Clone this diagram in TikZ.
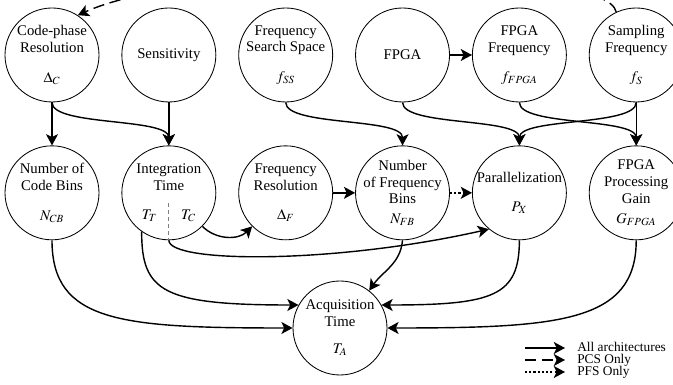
\documentclass[tikz,border=0pt]{standalone}
\usepackage{mathptmx}
\usepackage{fontspec}
\setmainfont{Liberation Serif}
\usetikzlibrary{arrows.meta, positioning}

\begin{document}
\begin{tikzpicture}[
    node distance=1.075cm and 0.55cm,
    var/.style={circle, draw, line width=0.6pt, minimum size=2.35cm, inner sep=-6pt, align=center, font=\fontsize{10.5}{12}\selectfont},
    arrow/.style={-{Stealth[length=2.8mm, width=3mm, inset=0.7mm]}, line width=1pt},
    pcsarrow/.style={arrow, dash pattern=on 8pt off 4pt},
    pfsarrow/.style={arrow, dash pattern=on 1.5pt off 1.5pt},
    split/.style={densely dashed, gray, line width=0.6pt},
    legend/.style={font=\fontsize{9.5}{10}\selectfont, inner sep=0pt, text height=6.5pt, text depth=1pt}
]
\useasboundingbox (0,0) rectangle (16.825,9.625);

% Row 1: inputs
\node[var] (cpr) at (1.3,8.25) {Code-phase\\Resolution\\[9pt]$\Delta_C$};
\node[var, right=of cpr] (sens) {Sensitivity};
\node[var, right=of sens] (fss) {Frequency\\Search Space\\[9pt]$f_{SS}$};
\node[var, right=of fss] (fpga) {FPGA};
\node[var, right=of fpga] (ffpga) {FPGA\\Frequency\\[9pt]$f_{FPGA}$};
\node[var, right=of ffpga] (fs) {Sampling\\Frequency\\[9pt]$f_S$};

% Row 2: derived quantities
\node[var, below=of cpr] (ncb) {Number of\\Code Bins\\[9pt]$N_{CB}$};
\node[var, below=of sens] (itime) {Integration\\Time\\[9pt]$T_T$\hspace{0.6cm}$T_C$};
\node[var, below=of fss] (fres) {Frequency\\Resolution\\[9pt]$\Delta_F$};
\node[var, below=of fpga] (nfb) {Number\\of Frequency\\Bins\\[2pt]$N_{FB}$};
\node[var, below=of ffpga] (px) {Parallelization\\[8.5pt]$P_X$};
\node[var, below=of fs] (fpg) {FPGA\\Processing\\Gain\\[2pt]$G_{FPGA}$};

% Row 3: result
\node[var] (acq) at (8.5,1.425) {Acquisition\\Time\\[7pt]$T_A$};

% Legend
\coordinate (lsolid) at (13.125,0.925);
\coordinate (ldash) at (13.125,0.625);
\coordinate (ldot) at (13.125,0.325);
\node[legend, right=1.3cm of lsolid] (lall) {All architectures};
\node[legend, right=1.3cm of ldash] (lpcs) {PCS Only};
\node[legend, right=1.3cm of ldot] (lpfs) {PFS Only};

% Arrows, row 1 to row 2
\draw[arrow] (cpr) -- (ncb);
\draw[arrow] (cpr.south) .. controls +(0,-0.6) and +(0,0.7) .. (itime.north);
\draw[arrow] (sens) -- (itime);
\draw[arrow] (fss.south) .. controls +(0,-0.6) and +(0,0.7) .. (nfb.north);
\draw[arrow] (fpga) -- (ffpga);
\draw[arrow] (fpga.south) .. controls +(0,-0.6) and +(0,0.7) .. (px.north);
\draw[arrow] (ffpga.south) .. controls +(0,-0.6) and +(0,0.7) .. (fpg.north);
\draw[arrow] (fs) -- (fpg);
\draw[arrow] (fs.south) .. controls +(0,-0.6) and +(0,0.7) .. (px.north);
\draw[pcsarrow] (fs.115) .. controls +(-0.2,1.2) and +(3.1,1.4) .. (cpr.57);

% Arrows within row 2
\draw[arrow] (fres) -- (nfb);
\draw[pfsarrow] (nfb) -- (px);
\draw[arrow] (itime.-45) to[out=-45, in=-135] (fres.-135);
\draw[split] ([yshift=-0.25cm]itime.center) -- (itime.south);
\draw[arrow] (itime.south) .. controls +(0,-0.575) and +(-3.875,-0.875) .. (px.230);

% Arrows into acquisition time
\draw[arrow] (ncb.south) .. controls +(0,-2.05) and +(-4.3,0) .. (acq.west);
\draw[arrow] (itime.235) .. controls +(0,-1.5) and +(-3.4,0) .. (acq.151);
\draw[arrow] (nfb.south) to[out=-95, in=55] (acq.52);
\draw[arrow] (px.south) .. controls +(0,-1.4) and +(2.8,0) .. (acq.29);
\draw[arrow] (fpg.south) .. controls +(0,-2.05) and +(4.3,0) .. (acq.east);

% Legend arrows
\draw[arrow, shorten >=0.3cm] (lsolid) -- (lall);
\draw[pcsarrow, shorten >=0.3cm] (ldash) -- (lpcs);
\draw[pfsarrow, shorten >=0.3cm] (ldot) -- (lpfs);

\end{tikzpicture}
\end{document}
